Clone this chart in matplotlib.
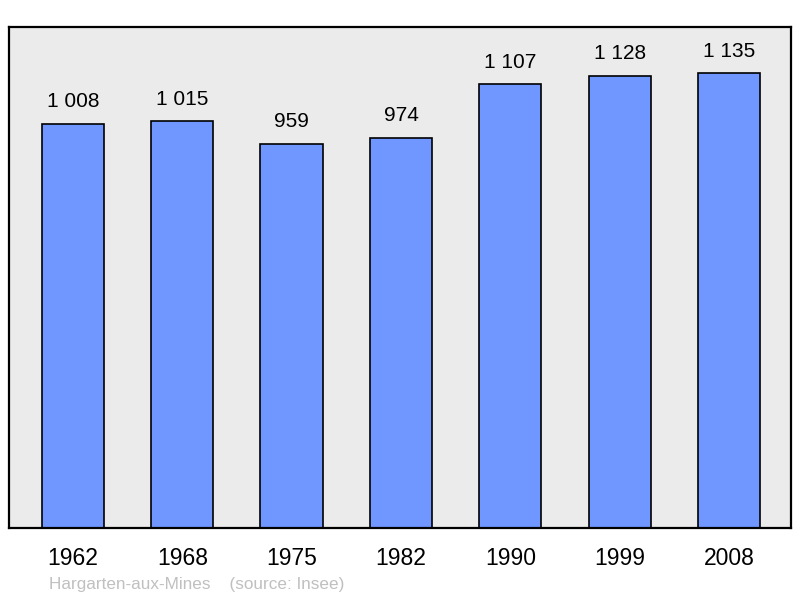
import matplotlib.pyplot as plt

plt.rcParams['font.family'] = ['Liberation Sans', 'DejaVu Sans']

# données
years = ["1962", "1968", "1975", "1982", "1990", "1999", "2008"]
population = [1008, 1015, 959, 974, 1107, 1128, 1135]
value_labels = ["1 008", "1 015", "959", "974", "1 107", "1 128", "1 135"]

fig = plt.figure(figsize=(8, 5.98), dpi=100)
ax = fig.add_axes([9 / 800, 70 / 598, 782 / 800, 501 / 598])
ax.set_facecolor("#ebebeb")

x = range(len(years))
bars = ax.bar(x, population, width=0.57, color="#7096ff",
              edgecolor="black", linewidth=1.2, zorder=2)

for b, lab in zip(bars, value_labels):
    ax.annotate(lab, (b.get_x() + b.get_width() / 2, b.get_height()),
                xytext=(0, 9), textcoords="offset points",
                ha="center", va="bottom", fontsize=15)

ax.set_xlim(-0.585, 6.567)
ax.set_ylim(0, 1250)
ax.set_yticks([])
ax.set_xticks(list(x))
ax.set_xticklabels(years, fontsize=16.5)
ax.tick_params(axis="x", length=0, pad=14)
for s in ax.spines.values():
    s.set_linewidth(1.6)

fig.text(49 / 800, 1 - 584 / 598, "Hargarten-aux-Mines    (source: Insee)",
         color="#c0c0c0", fontsize=12.3, va="center", ha="left")

fig.savefig("out.png", dpi=100)
